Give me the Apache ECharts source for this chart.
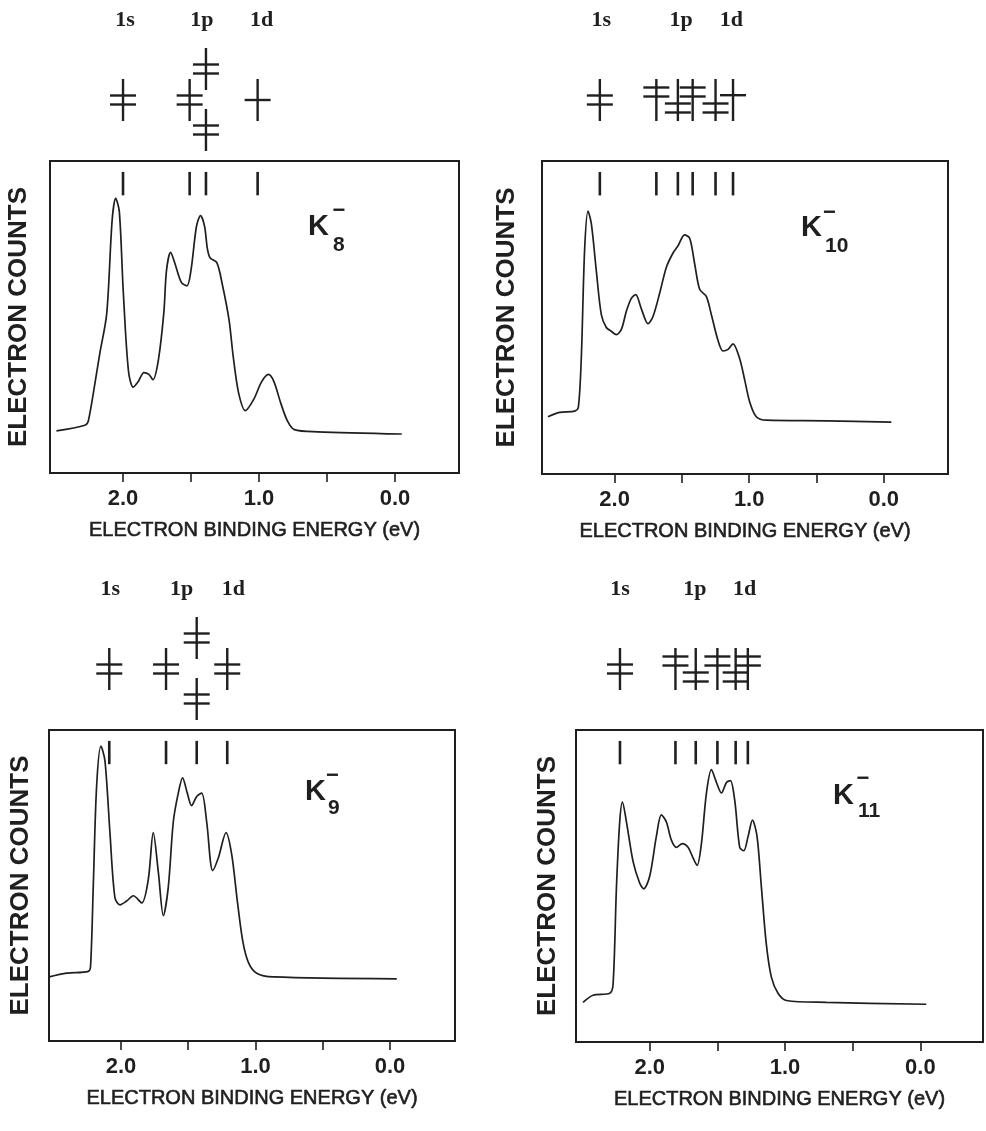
<!DOCTYPE html>
<html><head><meta charset="utf-8">
<script src="https://cdn.jsdelivr.net/npm/echarts@6/dist/echarts.min.js"></script>
<style>html,body{margin:0;padding:0;background:#fff}#c{width:986px;height:1131px}</style>
</head><body><div id="c"></div>
<script>
// ---------- data ----------
const energyTicks = [0, 0.5, 1.0, 1.5, 2.0];
const energyLabels = [0, 1.0, 2.0];
const xTitle = 'ELECTRON BINDING ENERGY (eV)';
const yTitle = 'ELECTRON COUNTS';
const shellNames = ['1s', '1p', '1d'];

// K8-
const k8Energy = [2.49, 2.28, 2.255, 2.20, 2.17, 2.12, 2.08, 2.054, 2.027, 1.998, 1.96, 1.925, 1.888, 1.846, 1.81, 1.78, 1.74, 1.70, 1.68, 1.65, 1.62, 1.57, 1.53, 1.50, 1.46, 1.43, 1.40, 1.38, 1.36, 1.31, 1.27, 1.22, 1.19, 1.15, 1.10, 1.04, 0.98, 0.93, 0.89, 0.84, 0.79, 0.74, 0.57, -0.05];
const k8Counts = [13.5, 15.3, 16.7, 30.5, 38.5, 51, 81, 88, 83.7, 58, 32.7, 27.5, 29.3, 32.2, 31.6, 29.9, 36.2, 51.3, 65, 70.7, 67.4, 61, 60, 65, 79, 82.5, 79, 72, 69, 67.4, 60.5, 49, 37.5, 25.7, 20, 23.5, 29.3, 31.6, 29.3, 22.4, 16.6, 13.9, 13.2, 12.5];
const k8Sticks = [2.00, 1.51, 1.39, 1.01];
// [energy, row (1 up / 0 mid / -1 low), bar shift, electrons]
const k8Levels = [[2.00, 0, 0, 2], [1.51, 0, 0, 2], [1.39, 1, 0, 2], [1.39, -1, 0, 2], [1.01, 0, 0, 1]];
const k8ShellPos = [1.985, 1.42, 0.98];

// K10-
const k10Energy = [2.496, 2.409, 2.297, 2.27, 2.248, 2.223, 2.198, 2.173, 2.136, 2.099, 2.062, 2.025, 1.988, 1.95, 1.913, 1.876, 1.844, 1.80, 1.752, 1.715, 1.665, 1.616, 1.566, 1.529, 1.48, 1.442, 1.405, 1.368, 1.318, 1.281, 1.232, 1.195, 1.157, 1.12, 1.071, 1.033, 0.996, 0.947, 0.872, 0.426, -0.057];
const k10Counts = [18.3, 19.7, 20.1, 21.3, 36.9, 71.8, 84, 79.9, 64.8, 50.9, 46.8, 45.6, 44.5, 46.2, 52, 56.1, 57.3, 52.6, 48, 50.3, 57.8, 66, 70.6, 72.9, 76.4, 75.3, 67.1, 59, 56.7, 50.9, 42.7, 39.3, 39.8, 41.6, 36.9, 30, 23, 18.3, 17.2, 17, 16.6];
const k10Sticks = [2.11, 1.69, 1.53, 1.42, 1.25, 1.12];
const k10Levels = [[2.11, 0, 0, 2], [1.69, 0, 1, 2], [1.53, 0, -1, 2], [1.42, 0, 1, 2], [1.25, 0, -1, 2], [1.12, 0, 0.6, 1]];
const k10ShellPos = [2.10, 1.505, 1.133];

// K9-
const k9Energy = [2.533, 2.404, 2.243, 2.226, 2.206, 2.181, 2.149, 2.119, 2.082, 2.045, 2.007, 1.958, 1.908, 1.846, 1.797, 1.76, 1.722, 1.685, 1.648, 1.611, 1.574, 1.542, 1.507, 1.475, 1.437, 1.40, 1.363, 1.318, 1.276, 1.219, 1.177, 1.135, 1.095, 1.053, 0.991, 0.867, -0.05];
const k9Counts = [20.6, 21.8, 22.4, 24.1, 49.6, 82, 94.8, 90.1, 67, 46.1, 43.8, 45, 46.7, 44.4, 51.9, 67, 54.2, 40.3, 49.6, 70.5, 79.7, 84.6, 79.7, 75.7, 78.6, 79.7, 70.5, 54.8, 58.9, 67, 60, 45, 32.2, 25.3, 21.8, 20.6, 20];
const k9Sticks = [2.087, 1.665, 1.437, 1.21];
const k9Levels = [[2.087, 0, 0, 2], [1.665, 0, 0, 2], [1.437, 1, 0, 2], [1.437, -1, 0, 2], [1.21, 0, 0, 2]];
const k9ShellPos = [2.08, 1.55, 1.165];

// K11-
const k11Energy = [2.493, 2.419, 2.296, 2.271, 2.246, 2.222, 2.202, 2.172, 2.123, 2.074, 2.044, 2.0, 1.951, 1.914, 1.877, 1.84, 1.803, 1.759, 1.717, 1.68, 1.65, 1.618, 1.581, 1.544, 1.512, 1.47, 1.433, 1.404, 1.372, 1.335, 1.305, 1.273, 1.241, 1.207, 1.175, 1.138, 1.101, 1.052, 0.99, 0.695, -0.044];
const k11Counts = [12.7, 15, 15.6, 18.5, 49.7, 70.5, 76.9, 70.5, 57.8, 50.9, 49.1, 53.2, 65.9, 72.8, 70.5, 64.7, 62.4, 63.6, 62.4, 59, 56.6, 63.6, 79.8, 87.3, 83.8, 79.8, 83.2, 83.8, 77.5, 62.4, 61.3, 65.9, 71.1, 65.9, 49.7, 31.2, 20.8, 15.6, 13.3, 12.7, 12.1];
const k11Sticks = [2.22, 1.81, 1.66, 1.50, 1.365, 1.275];
const k11Levels = [[2.22, 0, 0, 2], [1.81, 0, 1, 2], [1.66, 0, -1, 2], [1.50, 0, 1, 2], [1.365, 0, -1, 2], [1.275, 0, 1, 2]];
const k11ShellPos = [2.22, 1.667, 1.298];

// ---------- layout ----------
const INK = '#1f1f1f';
const SANS = '"Liberation Sans", Arial, Helvetica, sans-serif';
const SERIF = '"Liberation Serif", "Times New Roman", serif';

const panels = [
  { E: k8Energy, C: k8Counts, sticks: k8Sticks, levels: k8Levels, shellPos: k8ShellPos, sub: '8',
    rect: { left: 50, top: 161, width: 409, height: 312 }, xMin: -0.471, xMax: 2.537, yGap: 18,
    k: { x: 308, y: 227, mx: 339, my: 211, sx: 333, sy: 245 } },
  { E: k10Energy, C: k10Counts, sticks: k10Sticks, levels: k10Levels, shellPos: k10ShellPos, sub: '10',
    rect: { left: 542, top: 161, width: 406, height: 313 }, xMin: -0.478, xMax: 2.54, yGap: 22,
    k: { x: 801, y: 228, mx: 829.5, my: 213, sx: 825, sy: 246 } },
  { E: k9Energy, C: k9Counts, sticks: k9Sticks, levels: k9Levels, shellPos: k9ShellPos, sub: '9',
    rect: { left: 49, top: 730, width: 406, height: 311 }, xMin: -0.483, xMax: 2.535, yGap: 15,
    k: { x: 305, y: 792, mx: 332.5, my: 776, sx: 328, sy: 808 } },
  { E: k11Energy, C: k11Counts, sticks: k11Sticks, levels: k11Levels, shellPos: k11ShellPos, sub: '11',
    rect: { left: 576, top: 730, width: 407, height: 312 }, xMin: -0.463, xMax: 2.545, yGap: 15,
    k: { x: 833, y: 796, mx: 863, my: 779, sx: 858, sy: 811 } }
];

const DIAG_H = 150;
const ROW_Y = { '1': 92, '0': 61, '-1': 31 };

const grid = [], xAxis = [], yAxis = [], series = [], graphic = [];

panels.forEach((p, i) => {
  const gMain = i * 2, gDiag = i * 2 + 1;
  grid.push({ left: p.rect.left, top: p.rect.top, width: p.rect.width, height: p.rect.height,
    show: true, borderColor: INK, borderWidth: 2, backgroundColor: 'transparent' });
  grid.push({ left: p.rect.left, top: p.rect.top - DIAG_H, width: p.rect.width, height: DIAG_H, show: false });

  xAxis.push({
    type: 'value', gridIndex: gMain, inverse: true, min: p.xMin, max: p.xMax,
    splitLine: { show: false }, axisLine: { show: false },
    axisTick: { show: true, inside: false, length: 9, lineStyle: { color: INK, width: 1.6 }, customValues: energyTicks },
    axisLabel: { show: true, customValues: energyLabels, margin: 15, color: INK, fontFamily: SANS, fontSize: 22,
      fontWeight: 'bold', formatter: v => Number(v).toFixed(1) },
    name: xTitle, nameLocation: 'middle', nameGap: 47,
    nameTextStyle: { color: INK, fontFamily: SANS, fontSize: 20, textBorderColor: INK, textBorderWidth: 0.6 }
  });
  xAxis.push({ type: 'value', gridIndex: gDiag, inverse: true, min: p.xMin, max: p.xMax, show: false });

  yAxis.push({
    type: 'value', gridIndex: gMain, min: 0, max: 100,
    axisLine: { show: false }, axisTick: { show: false }, axisLabel: { show: false }, splitLine: { show: false },
    name: yTitle, nameLocation: 'middle', nameGap: p.yGap, nameRotate: 90,
    nameTextStyle: { color: INK, fontFamily: SANS, fontSize: 26, fontWeight: 'bold' }
  });
  yAxis.push({ type: 'value', gridIndex: gDiag, min: 0, max: DIAG_H, show: false });

  // spectrum
  series.push({
    type: 'line', xAxisIndex: gMain, yAxisIndex: gMain, showSymbol: false, smooth: 0.3,
    lineStyle: { color: INK, width: 1.7 }, silent: true,
    data: p.E.map((e, j) => [e, p.C[j]])
  });
  // in-frame stick marks
  series.push({
    type: 'custom', xAxisIndex: gMain, yAxisIndex: gMain, silent: true,
    data: p.sticks.map(e => [e]),
    renderItem: (params, api) => {
      const a = api.coord([api.value(0), 96.5]);
      const b = api.coord([api.value(0), 89]);
      return { type: 'line', shape: { x1: a[0], y1: a[1], x2: b[0], y2: b[1] },
        style: { stroke: INK, lineWidth: 2.6 } };
    }
  });
  // level diagrams
  series.push({
    type: 'custom', xAxisIndex: gDiag, yAxisIndex: gDiag, silent: true, clip: false,
    data: p.levels,
    renderItem: (params, api) => {
      const e = api.value(0), row = api.value(1), shift = api.value(2), n = api.value(3);
      const c = api.coord([e, ROW_Y[String(row)]]);
      const st = { stroke: INK, lineWidth: 2.4 };
      const kids = [{ type: 'line', shape: { x1: c[0], y1: c[1] - 21, x2: c[0], y2: c[1] + 21 }, style: st }];
      const by = c[1] - shift * 8;
      const ys = n === 2 ? [by - 4.5, by + 4.5] : [by];
      ys.forEach(y => kids.push({ type: 'line', shape: { x1: c[0] - 13, y1: y, x2: c[0] + 13, y2: y }, style: st }));
      return { type: 'group', children: kids };
    }
  });
  // shell labels
  series.push({
    type: 'custom', xAxisIndex: gDiag, yAxisIndex: gDiag, silent: true, clip: false,
    data: p.shellPos.map((e, j) => [e, j]),
    renderItem: (params, api) => {
      const c = api.coord([api.value(0), 141]);
      return { type: 'text', x: c[0], y: c[1],
        style: { text: shellNames[api.value(1)], fill: INK, font: 'bold 22px ' + SERIF,
          textAlign: 'center', textVerticalAlign: 'middle' } };
    }
  });

  // K_n^- label
  graphic.push({ type: 'text', x: p.k.x, y: p.k.y,
    style: { text: 'K', font: 'bold 29px ' + SANS, fill: INK, textAlign: 'left', textVerticalAlign: 'middle' } });
  graphic.push({ type: 'text', x: p.k.mx, y: p.k.my,
    style: { text: '\u2212', font: 'bold 22px ' + SANS, fill: INK, textAlign: 'center', textVerticalAlign: 'middle' } });
  graphic.push({ type: 'text', x: p.k.sx, y: p.k.sy,
    style: { text: p.sub, font: 'bold 21px ' + SANS, fill: INK, textAlign: 'left', textVerticalAlign: 'middle' } });
});

const chart = echarts.init(document.getElementById('c'), null, { renderer: 'canvas' });
chart.setOption({ animation: false, backgroundColor: '#ffffff', grid, xAxis, yAxis, series, graphic });
</script>
</body></html>
